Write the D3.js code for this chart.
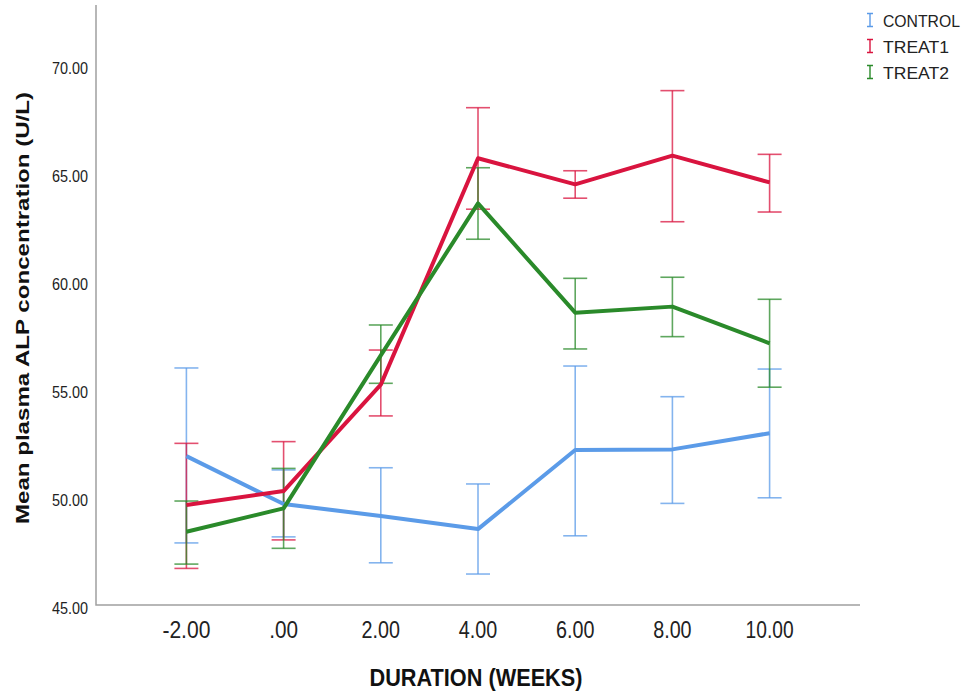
<!DOCTYPE html>
<html>
<head>
<meta charset="utf-8">
<script src="https://cdn.jsdelivr.net/npm/d3@7"></script>
<style>
  body { margin: 0; background: #fff; }
  text { font-family: "Liberation Sans", Arial, sans-serif; }
</style>
</head>
<body>
<svg id="chart" width="968" height="693"></svg>
<script>
// weeks on the x axis
var weeks = ["-2.00", ".00", "2.00", "4.00", "6.00", "8.00", "10.00"];
var groups = ["CONTROL", "TREAT1", "TREAT2"];
var yTicks = [45, 50, 55, 60, 65, 70];

// mean and error bar limits
var controlMean  = [51.94, 49.72, 49.17, 48.56, 52.22, 52.25, 53.00];
var controlHigh  = [56.02, 51.30, 51.40, 50.65, 56.11, 54.69, 55.97];
var controlLow   = [47.92, 48.20, 47.00, 46.48, 48.25, 49.75, 50.01];

var treat1Mean   = [49.68, 50.32, 55.25, 65.73, 64.52, 65.85, 64.61];
var treat1High   = [52.53, 52.61, 56.85, 68.07, 65.15, 68.86, 65.91];
var treat1Low    = [46.74, 48.06, 53.80, 63.37, 63.88, 62.79, 63.24];

var treat2Mean   = [48.44, 49.52, 56.60, 63.64, 58.58, 58.86, 57.16];
var treat2High   = [49.86, 51.37, 58.01, 65.29, 60.17, 60.22, 59.20];
var treat2Low    = [46.94, 47.67, 55.31, 61.98, 56.90, 57.47, 55.13];

var colors = ["#5b9be8", "#d9143f", "#2a8a2a"];

(function() {
  var series = [
    {name: groups[0], mean: controlMean, hi: controlHigh, lo: controlLow, color: colors[0]},
    {name: groups[1], mean: treat1Mean, hi: treat1High, lo: treat1Low, color: colors[1]},
    {name: groups[2], mean: treat2Mean, hi: treat2High, lo: treat2Low, color: colors[2]}
  ];

  var svg = d3.select("#chart");
  var m = {left: 96, right: 860, top: 5, bottom: 605};

  var x = d3.scalePoint().domain(weeks).range([m.left, m.right]).padding(0.93);
  var y = d3.scaleLinear().domain([45, 70]).range([606, 66]);

  // axes: plain L shaped frame, no tick marks
  svg.append("path")
    .attr("d", "M" + m.left + "," + m.top + "V" + m.bottom + "H" + m.right)
    .attr("fill", "none")
    .attr("stroke", "#a0a0a0")
    .attr("stroke-width", 1.5);

  svg.selectAll(".ytick").data(yTicks).enter().append("text")
    .attr("class", "ytick")
    .attr("x", 88)
    .attr("y", function(d) { return y(d) + 8; })
    .attr("text-anchor", "end")
    .attr("font-size", 16)
    .attr("textLength", 36)
    .attr("lengthAdjust", "spacingAndGlyphs")
    .attr("fill", "#222")
    .text(function(d) { return d3.format(".2f")(d); });

  svg.selectAll(".xtick").data(weeks).enter().append("text")
    .attr("class", "xtick")
    .attr("x", function(d) { return x(d); })
    .attr("y", 638)
    .attr("text-anchor", "middle")
    .attr("font-size", 24)
    .attr("textLength", function(d) { return d.length * 9.6; })
    .attr("lengthAdjust", "spacingAndGlyphs")
    .attr("fill", "#222")
    .text(function(d) { return d; });

  svg.append("text")
    .attr("x", 476).attr("y", 686)
    .attr("text-anchor", "middle")
    .attr("font-size", 23).attr("font-weight", "bold")
    .attr("textLength", 213)
    .attr("lengthAdjust", "spacingAndGlyphs")
    .attr("fill", "#111")
    .text("DURATION (WEEKS)");

  svg.append("text")
    .attr("transform", "translate(29,308) rotate(-90)")
    .attr("text-anchor", "middle")
    .attr("font-size", 19).attr("font-weight", "bold")
    .attr("textLength", 432)
    .attr("lengthAdjust", "spacingAndGlyphs")
    .attr("fill", "#111")
    .text("Mean plasma ALP concentration (U/L)");

  var line = d3.line()
    .x(function(d, i) { return x(weeks[i]); })
    .y(function(d) { return y(d); });

  var capW = 12;

  series.forEach(function(s) {
    var g = svg.append("g")
      .attr("stroke", s.color)
      .attr("stroke-width", 1.6)
      .attr("stroke-opacity", 0.75);
    weeks.forEach(function(w, i) {
      var cx = x(w);
      g.append("line").attr("x1", cx).attr("x2", cx)
        .attr("y1", y(s.hi[i])).attr("y2", y(s.lo[i]));
      g.append("line").attr("x1", cx - capW).attr("x2", cx + capW)
        .attr("y1", y(s.hi[i])).attr("y2", y(s.hi[i]));
      g.append("line").attr("x1", cx - capW).attr("x2", cx + capW)
        .attr("y1", y(s.lo[i])).attr("y2", y(s.lo[i]));
    });
  });

  series.forEach(function(s) {
    svg.append("path")
      .datum(s.mean)
      .attr("d", line)
      .attr("fill", "none")
      .attr("stroke", s.color)
      .attr("stroke-width", 4)
      .attr("stroke-linejoin", "round");
  });

  // legend
  var legend = svg.selectAll(".legend").data(series).enter().append("g")
    .attr("class", "legend")
    .attr("transform", function(d, i) { return "translate(870," + (20 + i * 26) + ")"; });

  legend.append("path")
    .attr("d", "M-3,-6.5H3M0,-6.5V6.5M-3,6.5H3")
    .attr("fill", "none")
    .attr("stroke", function(d) { return d.color; })
    .attr("stroke-width", 1.4);

  legend.append("text")
    .attr("x", 13).attr("y", 6.5)
    .attr("font-size", 17)
    .attr("textLength", function(d) { return d.name.length * 11; })
    .attr("lengthAdjust", "spacingAndGlyphs")
    .attr("fill", "#222")
    .text(function(d) { return d.name; });
})();
</script>
</body>
</html>
